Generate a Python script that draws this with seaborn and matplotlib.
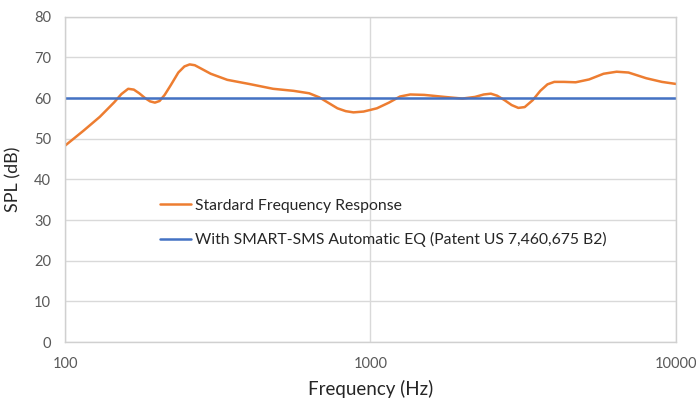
import numpy as np
import pandas as pd
import matplotlib
matplotlib.use("Agg")
import matplotlib.pyplot as plt
import matplotlib.ticker as mticker
import seaborn as sns

# values
freq_std = [100, 115, 130, 145, 153, 161, 168, 175, 183, 190, 197, 204, 212, 222,
            235, 246, 256, 266, 277, 300, 340, 400, 480, 560, 630, 680, 730, 780,
            830, 880, 950, 1050, 1150, 1250, 1350, 1500, 1750, 2000, 2200, 2350,
            2480, 2600, 2750, 2900, 3050, 3200, 3400, 3600, 3800, 4000, 4300, 4700,
            5200, 5800, 6400, 7000, 8000, 9000, 10000]
spl_std = [48.3, 52.0, 55.4, 59.0, 61.0, 62.3, 62.1, 61.2, 60.0, 59.2, 58.9, 59.3,
           60.8, 63.2, 66.3, 67.8, 68.3, 68.1, 67.4, 66.0, 64.5, 63.5, 62.3, 61.8,
           61.2, 60.2, 58.8, 57.5, 56.8, 56.5, 56.7, 57.5, 58.9, 60.4, 60.9, 60.8,
           60.3, 59.9, 60.3, 60.9, 61.1, 60.6, 59.5, 58.3, 57.6, 57.8, 59.5, 61.8,
           63.4, 64.0, 64.0, 63.9, 64.6, 66.0, 66.5, 66.3, 64.9, 64.0, 63.5]
freq_eq = [100, 10000]
spl_eq = [60, 60]

label_std = "Stardard Frequency Response"
label_eq = "With SMART-SMS Automatic EQ (Patent US 7,460,675 B2)"

sns.set_theme(style="white")
plt.rcParams["font.family"] = ["Lato", "DejaVu Sans"]

fig, ax = plt.subplots(figsize=(6.96, 4.01), dpi=100)
fig.subplots_adjust(left=0.0934, right=0.971, top=0.958, bottom=0.147)

df_std = pd.DataFrame({"freq": freq_std, "spl": spl_std})
df_eq = pd.DataFrame({"freq": freq_eq, "spl": spl_eq})

sns.lineplot(data=df_std, x="freq", y="spl", color="#ED7D31", linewidth=1.8,
             label=label_std, ax=ax)
sns.lineplot(data=df_eq, x="freq", y="spl", color="#4472C4", linewidth=1.8,
             label=label_eq, ax=ax)
for ln in ax.get_lines():
    ln.set_solid_joinstyle("round")

ax.set_xscale("log")
ax.set_xlim(100, 10000)
ax.set_ylim(0, 80)
ax.set_yticks(range(0, 81, 10))
ax.set_xticks([100, 1000, 10000])
ax.xaxis.set_major_formatter(mticker.FuncFormatter(lambda v, p: f"{int(v)}"))
ax.xaxis.set_minor_locator(mticker.NullLocator())

ax.grid(True, which="major", color="#D9D9D9", linewidth=1)
for s in ax.spines.values():
    s.set_color("#D0D0D0")
    s.set_linewidth(1)

ax.tick_params(axis="both", length=0, labelsize=10.5, labelcolor="#595959")
ax.tick_params(axis="x", pad=11)
ax.tick_params(axis="y", pad=10)
ax.set_xlabel("Frequency (Hz)", fontsize=13.5, color="#262626", labelpad=6)
ax.set_ylabel("SPL (dB)", fontsize=13, color="#262626", labelpad=9)

ax.legend(loc="center left", bbox_to_anchor=(0.155, 0.366), frameon=False,
          fontsize=11.3, labelspacing=1.25, handlelength=2.0, handletextpad=0.25,
          borderpad=0, borderaxespad=0)

fig.savefig("out.png", dpi=100)
